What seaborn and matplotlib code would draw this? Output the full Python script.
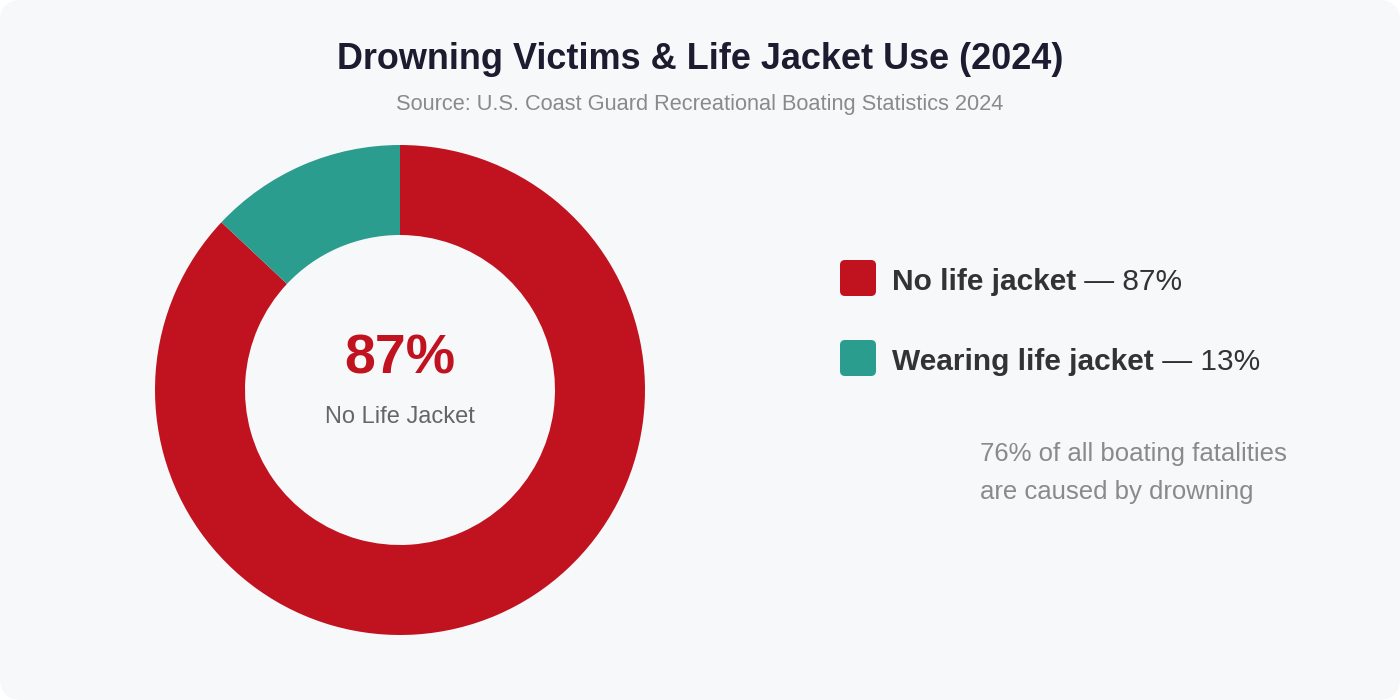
import matplotlib
matplotlib.use('Agg')
import matplotlib.pyplot as plt
from matplotlib.patches import FancyBboxPatch
from matplotlib.transforms import IdentityTransform
import seaborn as sns

# data
labels = ['No life jacket', 'Wearing life jacket']
shares = [87, 13]
colors = ['#c1121f', '#2a9d8f']
title = 'Drowning Victims & Life Jacket Use (2024)'
subtitle = 'Source: U.S. Coast Guard Recreational Boating Statistics 2024'
center_label = 'No Life Jacket'
note_lines = ['76% of all boating fatalities', 'are caused by drowning']

sns.set_theme(style='white')
plt.rcParams['font.family'] = ['Liberation Sans', 'DejaVu Sans']
palette = sns.color_palette(colors)

W, H = 1400, 700
fig = plt.figure(figsize=(14, 7), dpi=100)
fig.patch.set_facecolor('white')

# rounded card background
card = FancyBboxPatch((0, 0), W, H, boxstyle='round,pad=0,rounding_size=22',
                      transform=IdentityTransform(), facecolor='#f7f8fa',
                      edgecolor='none', zorder=-10)
fig.patches.append(card)

# overlay axes in pixel coords for text and legend
ax = fig.add_axes([0, 0, 1, 1])
ax.set_xlim(0, W)
ax.set_ylim(H, 0)
ax.axis('off')
ax.patch.set_alpha(0)

ax.text(700, 69, title, ha='center', va='baseline', fontsize=25.9,
        fontweight='bold', color='#1c1c30')
ax.text(700, 110, subtitle, ha='center', va='baseline', fontsize=15.7,
        color='#8a8a8a')

# donut
cx, cy, half = 400, 390, 250
dax = fig.add_axes([(cx - half) / W, (H - cy - half) / H, 2 * half / W, 2 * half / H])
radius = 245 / half
dax.pie(shares, colors=palette, startangle=90, counterclock=False, radius=radius,
        wedgeprops=dict(width=radius * 90 / 245, linewidth=0, edgecolor='none'))
dax.set_xlim(-1, 1)
dax.set_ylim(-1, 1)
dax.set_aspect('equal')
dax.axis('off')
dax.patch.set_alpha(0)

ax.text(cx, 374, f'{shares[0]}%', ha='center', va='baseline', fontsize=40,
        fontweight='bold', color=colors[0])
ax.text(cx, 423, center_label, ha='center', va='baseline', fontsize=17,
        color='#666666')

# legend
renderer = fig.canvas.get_renderer()
rows_y = [278, 358]
for lab, val, col, y in zip(labels, shares, palette, rows_y):
    sq = FancyBboxPatch((840, y - 18), 36, 36, boxstyle='round,pad=0,rounding_size=5',
                        facecolor=col, edgecolor='none')
    ax.add_patch(sq)
    t = ax.text(892, y + 12, lab, ha='left', va='baseline', fontsize=21.5,
                fontweight='bold', color='#333333')
    bb = t.get_window_extent(renderer=renderer)
    x_end = ax.transData.inverted().transform((bb.x1, bb.y0))[0]
    ax.text(x_end, y + 12, f' \u2014 {val}%', ha='left', va='baseline',
            fontsize=21.5, color='#333333')

for i, line in enumerate(note_lines):
    ax.text(980, 461 + i * 38.5, line, ha='left', va='baseline', fontsize=18.5,
            color='#8a8a8a')

fig.savefig('out.png', dpi=100, facecolor=fig.get_facecolor())
